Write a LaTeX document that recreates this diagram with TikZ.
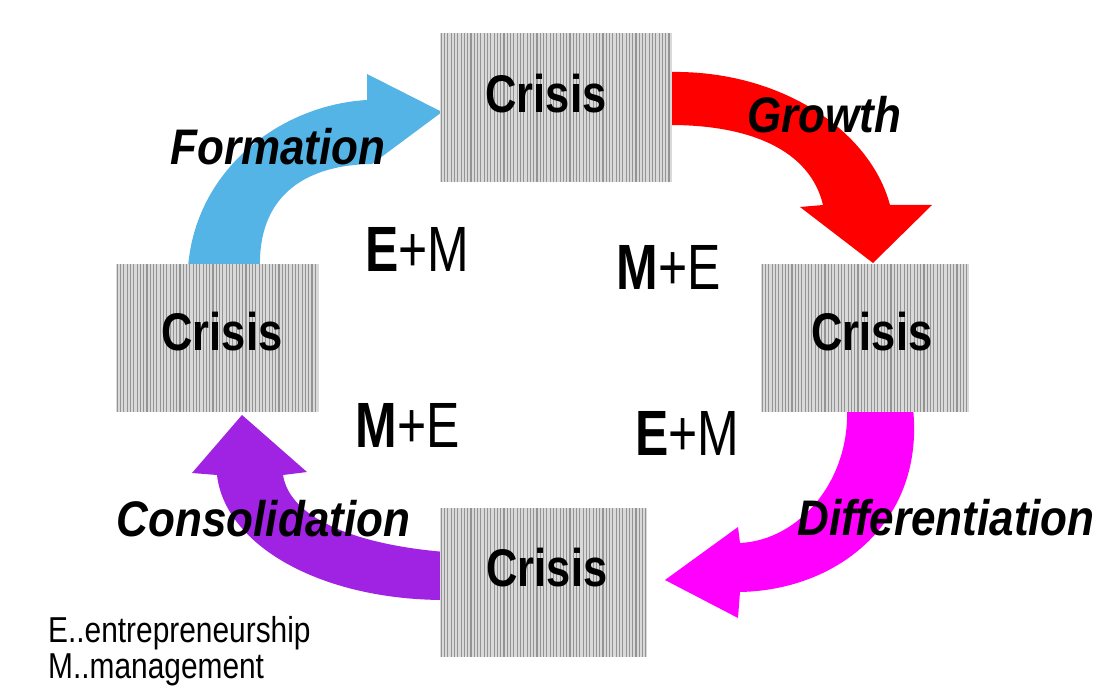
\documentclass[tikz,border=0pt]{standalone}
\usepackage{fontspec}
\setmainfont{Liberation Sans}
\definecolor{formblue}{RGB}{85,180,230}
\definecolor{growred}{RGB}{255,0,0}
\definecolor{diffmag}{RGB}{255,0,255}
\definecolor{conspurple}{RGB}{160,34,226}
\begin{document}
\begin{tikzpicture}[x=1pt,y=-1pt,
  crisisbox/.style={fill=black!15, inner sep=0pt},
  stripe/.style={draw=black!42, line width=1.1pt},
  crisistext/.style={font=\fontsize{53}{60}\selectfont\bfseries, inner sep=0pt, xscale=0.82},
  phase/.style={font=\fontsize{50}{56}\selectfont\bfseries\itshape, inner sep=0pt, xscale=0.88},
  mix/.style={font=\fontsize{64}{70}\selectfont, inner sep=0pt, xscale=0.78},
  legend/.style={font=\fontsize{36}{42}\selectfont, inner sep=0pt, xscale=0.83, anchor=base west},
]
\useasboundingbox (0,0) rectangle (1106,687);

% the four phase arrows
\fill[formblue] (188,268) .. controls (195,170) and (280,105) .. (367,100)
  -- (367,74) -- (442,112) -- (372,164)
  .. controls (300,165) and (258,200) .. (260,268) -- cycle;
\fill[growred] (670,72) .. controls (780,70) and (870,130) .. (890,205)
  -- (932,205) -- (873,263) -- (800,207) -- (823,205)
  .. controls (810,150) and (750,125) .. (670,125) -- cycle;
\fill[diffmag] (913,408) .. controls (925,520) and (840,590) .. (740,592)
  -- (738,618) -- (665,580) -- (738,527) -- (740,543)
  .. controls (800,540) and (850,480) .. (847,408) -- cycle;
\fill[conspurple] (445,600) .. controls (320,600) and (225,545) .. (217,475)
  -- (192,473) -- (242,415) -- (307,472) -- (283,475)
  .. controls (290,520) and (360,545) .. (445,552) -- cycle;

% crisis boxes
\node[crisisbox, minimum width=232pt, minimum height=149pt] (ct) at (556,107.5) {};
\node[crisisbox, minimum width=203pt, minimum height=148pt] (cl) at (217.5,338) {};
\node[crisisbox, minimum width=208pt, minimum height=148pt] (cr) at (865,338) {};
\node[crisisbox, minimum width=207pt, minimum height=149pt] (cb) at (543.5,582.5) {};
\foreach \b/\n in {ct/69,cl/60,cr/62,cb/62}
  \foreach \i in {0,...,\n}
    \draw[stripe] ([xshift=1.5pt+\i*3.3pt]\b.north west) -- ([xshift=1.5pt+\i*3.3pt]\b.south west);

\node[crisistext] (tt) at (546,94) {Crisis};
\node[crisistext] (tl) at (222,332) {Crisis};
\node[crisistext] (tr) at (872,332) {Crisis};
\node[crisistext] (tb) at (547,568) {Crisis};

% phase labels
\node[phase] (formation) at (278,147) {Formation};
\node[phase] (growth) at (824,115) {Growth};
\node[phase] (differentiation) at (946,518) {Differentiation};
\node[phase] (consolidation) at (263.5,519) {Consolidation};

% mixes
\node[mix] (mixtl) at (417.5,249) {{\bfseries E}+M};
\node[mix] (mixtr) at (668.5,267.5) {{\bfseries M}+E};
\node[mix] (mixbl) at (407.5,425.5) {{\bfseries M}+E};
\node[mix] (mixbr) at (687.5,433.5) {{\bfseries E}+M};

% legend
\node[legend] (legE) at (48,642) {E..entrepreneurship};
\node[legend] (legM) at (48,678) {M..management};
\end{tikzpicture}
\end{document}
